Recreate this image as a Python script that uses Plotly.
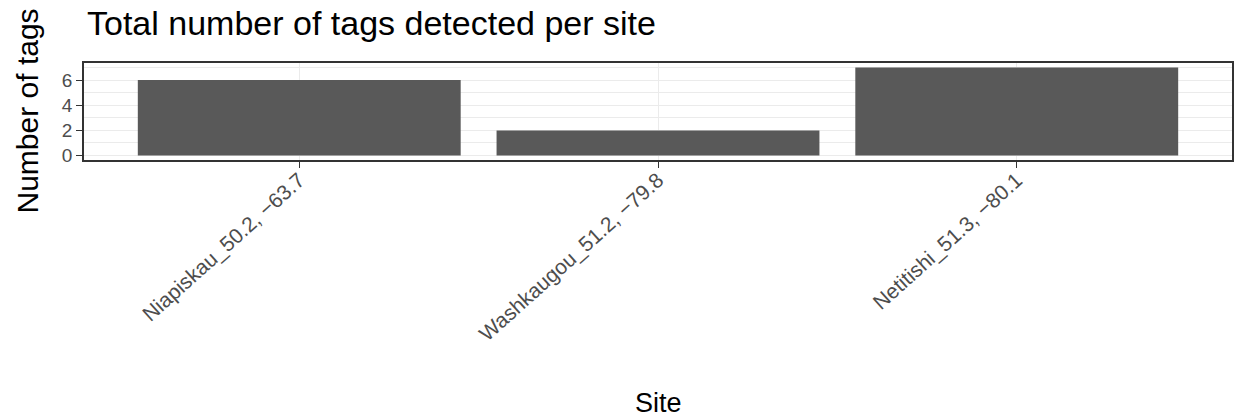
import plotly.graph_objects as go

# Tags detected at each receiver site
sites = ["Niapiskau_50.2, \u221263.7", "Washkaugou_51.2, \u221279.8", "Netitishi_51.3, \u221280.1"]
tag_counts = [6, 2, 7]

y_ticks = [0, 2, 4, 6]

FONT = "Liberation Sans, Arial, Helvetica, sans-serif"
GRID = "#EBEBEB"
FRAME = "#333333"
TICK_TXT = "#4D4D4D"

fig = go.Figure(
    go.Bar(
        x=sites,
        y=tag_counts,
        width=0.9,
        marker=dict(color="#595959", line=dict(width=0)),
        hoverinfo="x+y",
    )
)

fig.update_layout(
    width=1238,
    height=420,
    margin=dict(l=84, r=4, t=63, b=260),
    paper_bgcolor="white",
    plot_bgcolor="white",
    showlegend=False,
    font=dict(family=FONT, color="black"),
    title=dict(
        text="Total number of tags detected per site",
        font=dict(family=FONT, size=34, color="black"),
        xref="container",
        x=87 / 1238,
        xanchor="left",
        yref="container",
        y=1 - 11 / 420,
        yanchor="top",
    ),
    bargap=0.1,
)

fig.update_xaxes(
    type="category",
    range=[-0.6, 2.6],
    showgrid=True,
    gridcolor=GRID,
    gridwidth=1.2,
    showline=True,
    mirror=True,
    linecolor=FRAME,
    linewidth=1.6,
    ticks="outside",
    ticklen=6,
    tickwidth=1.3,
    tickcolor=FRAME,
    tickangle=-42,
    ticklabelstandoff=-8,
    tickfont=dict(family=FONT, size=21, color=TICK_TXT),
    zeroline=False,
)

fig.update_yaxes(
    range=[-0.35, 7.35],
    tickmode="array",
    tickvals=y_ticks,
    ticktext=[str(v) for v in y_ticks],
    showgrid=True,
    gridcolor=GRID,
    gridwidth=1.2,
    minor=dict(dtick=1, tick0=0, showgrid=True, gridcolor=GRID, gridwidth=0.6, ticks=""),
    showline=True,
    mirror=True,
    linecolor=FRAME,
    linewidth=1.6,
    ticks="outside",
    ticklen=6,
    tickwidth=1.3,
    tickcolor=FRAME,
    tickfont=dict(family=FONT, size=19, color=TICK_TXT),
    zeroline=False,
)

# Axis titles placed relative to the plotting panel
fig.add_annotation(
    text="Site",
    xref="paper", yref="paper",
    x=0.5, y=0,
    xanchor="center", yanchor="middle",
    yshift=-243,
    showarrow=False,
    font=dict(family=FONT, size=27, color="black"),
)
fig.add_annotation(
    text="Number of tags",
    xref="paper", yref="paper",
    x=0, y=0.5,
    xanchor="center", yanchor="middle",
    xshift=-57,
    textangle=-90,
    showarrow=False,
    font=dict(family=FONT, size=30, color="black"),
)

fig.write_html("out.html")
